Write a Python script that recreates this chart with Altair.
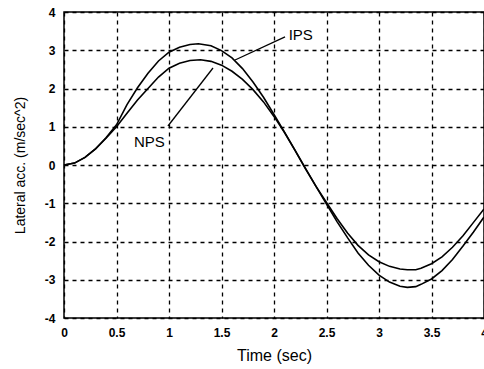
import altair as alt
import pandas as pd

t_ips = [0.0, 0.1, 0.2, 0.3, 0.4, 0.5, 0.6, 0.7, 0.8, 0.9, 1.0, 1.1, 1.2, 1.28, 1.4, 1.5, 1.6, 1.7, 1.8, 1.9, 2.0,
         2.1, 2.2, 2.3, 2.4, 2.5, 2.6, 2.7, 2.8, 2.9, 3.0, 3.1, 3.2, 3.27, 3.35, 3.4, 3.5, 3.6, 3.7, 3.8, 3.9, 4.0]
ips = [0.0, 0.05, 0.2, 0.42, 0.71, 1.05, 1.58, 2.02, 2.4, 2.72, 2.95, 3.08, 3.15, 3.17, 3.12, 2.99, 2.8, 2.52, 2.17, 1.77, 1.32,
       0.86, 0.39, -0.09, -0.56, -1.02, -1.48, -1.9, -2.3, -2.62, -2.88, -3.06, -3.17, -3.2, -3.18, -3.12, -2.98, -2.76, -2.47, -2.12, -1.75, -1.36]

t_nps = [0.0, 0.1, 0.2, 0.3, 0.4, 0.5, 0.6, 0.7, 0.8, 0.9, 1.0, 1.1, 1.2, 1.3, 1.4, 1.5, 1.6, 1.7, 1.8, 1.9, 2.0,
         2.1, 2.2, 2.3, 2.4, 2.5, 2.6, 2.7, 2.8, 2.9, 3.0, 3.1, 3.2, 3.27, 3.35, 3.4, 3.5, 3.6, 3.7, 3.8, 3.9, 4.0]
nps = [0.0, 0.05, 0.2, 0.42, 0.7, 1.0, 1.35, 1.7, 2.0, 2.3, 2.53, 2.66, 2.73, 2.75, 2.71, 2.61, 2.45, 2.24, 1.97, 1.65, 1.27,
       0.85, 0.38, -0.1, -0.56, -0.98, -1.4, -1.78, -2.1, -2.35, -2.53, -2.65, -2.72, -2.74, -2.74, -2.7, -2.58, -2.4, -2.15, -1.85, -1.5, -1.15]

x_ticks = [0, 0.5, 1, 1.5, 2, 2.5, 3, 3.5, 4]
y_ticks = [-4, -3, -2, -1, 0, 1, 2, 3, 4]

label_names = ["IPS", "NPS"]
label_t = [2.14, 0.96]
label_v = [3.4, 0.6]
label_align = ["left", "right"]
leader_t1 = [2.105, 0.99]
leader_v1 = [3.35, 1.02]
leader_t2 = [1.629, 1.419]
leader_v2 = [2.745, 2.536]

df = pd.DataFrame({
    "t": t_ips + t_nps,
    "v": ips + nps,
    "series": ["IPS"] * len(t_ips) + ["NPS"] * len(t_nps),
})
lab = pd.DataFrame({"name": label_names, "t": label_t, "v": label_v, "align": label_align})
lead = pd.DataFrame({"t1": leader_t1, "v1": leader_v1, "t2": leader_t2, "v2": leader_v2})

FONT = "Liberation Sans"
xs = alt.Scale(domain=[0, 4], nice=False, zero=False)
ys = alt.Scale(domain=[-4, 4], nice=False, zero=False)
xax = alt.Axis(values=x_ticks, labelFlush=False, tickCount=9, labelExpr="'' + datum.value")
yax = alt.Axis(values=y_ticks, tickCount=9, labelOverlap=False, labelExpr="'' + datum.value")

X = lambda f: alt.X(f, scale=xs, title="Time (sec)", axis=xax)
Y = lambda f: alt.Y(f, scale=ys, title="Lateral acc. (m/sec^2)", axis=yax)

lines = alt.Chart(df).mark_line(color="black", strokeWidth=1.6).encode(
    x=X("t:Q"), y=Y("v:Q"), detail="series:N",
)

leaders = alt.Chart(lead).mark_rule(color="black", strokeWidth=1.3).encode(
    x=X("t1:Q"), y=Y("v1:Q"), x2="t2:Q", y2="v2:Q"
)

txt_l = alt.Chart(lab[lab["align"] == "left"]).mark_text(
    align="left", baseline="middle", font=FONT, fontSize=15, color="black"
).encode(x=X("t:Q"), y=Y("v:Q"), text="name:N")
txt_r = alt.Chart(lab[lab["align"] == "right"]).mark_text(
    align="right", baseline="middle", font=FONT, fontSize=15, color="black"
).encode(x=X("t:Q"), y=Y("v:Q"), text="name:N")

chart = alt.layer(lines, leaders, txt_l, txt_r).properties(
    width=420, height=306,
    autosize=alt.AutoSizeParams(type="none"),
    padding={"left": 64, "top": 12, "right": 0, "bottom": 51},
    background="white",
).configure_view(
    stroke="black", strokeWidth=1.5
).configure_axis(
    grid=True, gridColor="black", gridDash=[4, 4], gridWidth=1.3, gridOpacity=1,
    domain=False, ticks=False,
    labelFont=FONT, labelFontSize=12, labelColor="black", labelFontWeight="bold",
    titleFont=FONT, titleColor="black", titleFontWeight="normal",
).configure_axisX(
    labelPadding=9, titlePadding=9, titleFontSize=16
).configure_axisY(
    labelPadding=9, titlePadding=17, titleFontSize=14
)

chart.save("out.html", embed_options={"renderer": "svg", "actions": False})
